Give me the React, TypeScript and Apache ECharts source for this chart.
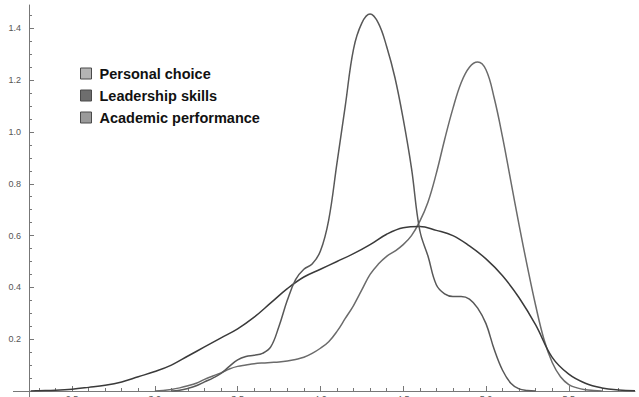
import React, { useEffect, useRef } from "react";
import * as echarts from "echarts";

// ---- data ----
const seriesNames = ["Personal choice", "Leadership skills", "Academic performance"];

// Personal choice: peak near 4.95
const personalX = [3.0, 3.05, 3.1, 3.15, 3.2, 3.25, 3.3, 3.35, 3.4, 3.45, 3.5, 3.55, 3.6, 3.65, 3.7, 3.75, 3.8, 3.85, 3.9, 3.95, 4.0, 4.05, 4.1, 4.15, 4.2, 4.25, 4.3, 4.35, 4.4, 4.45, 4.5, 4.55, 4.6, 4.65, 4.7, 4.75, 4.8, 4.85, 4.9, 4.95, 5.0, 5.05, 5.1, 5.15, 5.2, 5.25, 5.3, 5.35, 5.4, 5.45, 5.5, 5.55, 5.6, 5.65, 5.7];
const personalY = [0, 0.002, 0.006, 0.012, 0.02, 0.03, 0.045, 0.058, 0.07, 0.085, 0.095, 0.1, 0.105, 0.108, 0.11, 0.112, 0.116, 0.122, 0.13, 0.145, 0.165, 0.19, 0.23, 0.28, 0.33, 0.39, 0.45, 0.49, 0.52, 0.54, 0.565, 0.6, 0.655, 0.73, 0.84, 0.97, 1.09, 1.19, 1.25, 1.27, 1.24, 1.13, 0.98, 0.81, 0.64, 0.48, 0.33, 0.2, 0.11, 0.055, 0.025, 0.012, 0.005, 0.002, 0];

// Leadership skills: broad curve
const leadershipX = [2.25, 2.3, 2.4, 2.5, 2.6, 2.7, 2.8, 2.9, 3.0, 3.1, 3.2, 3.3, 3.4, 3.5, 3.6, 3.7, 3.8, 3.9, 4.0, 4.1, 4.2, 4.3, 4.4, 4.5, 4.6, 4.7, 4.8, 4.9, 5.0, 5.1, 5.2, 5.3, 5.4, 5.5, 5.6, 5.7, 5.8, 5.9];
const leadershipY = [0, 0.001, 0.003, 0.007, 0.014, 0.022, 0.035, 0.055, 0.075, 0.1, 0.135, 0.17, 0.205, 0.24, 0.285, 0.34, 0.395, 0.44, 0.47, 0.5, 0.53, 0.565, 0.605, 0.63, 0.635, 0.62, 0.6, 0.56, 0.51, 0.445, 0.36, 0.255, 0.13, 0.065, 0.03, 0.012, 0.004, 0.001];

// Academic performance: tall peak near 4.3
const academicX = [3.1, 3.15, 3.2, 3.25, 3.3, 3.35, 3.4, 3.45, 3.5, 3.55, 3.6, 3.65, 3.7, 3.75, 3.8, 3.85, 3.9, 3.95, 4.0, 4.05, 4.1, 4.15, 4.2, 4.25, 4.3, 4.35, 4.4, 4.45, 4.5, 4.55, 4.6, 4.65, 4.7, 4.75, 4.8, 4.85, 4.9, 4.95, 5.0, 5.05, 5.1, 5.15, 5.2, 5.25, 5.3];
const academicY = [0, 0.003, 0.01, 0.02, 0.035, 0.05, 0.068, 0.095, 0.12, 0.133, 0.138, 0.145, 0.17, 0.25, 0.35, 0.43, 0.47, 0.49, 0.54, 0.66, 0.88, 1.1, 1.32, 1.42, 1.455, 1.42, 1.33, 1.21, 1.05, 0.86, 0.62, 0.52, 0.41, 0.375, 0.365, 0.365, 0.355, 0.32, 0.26, 0.16, 0.08, 0.03, 0.008, 0.002, 0];

const xMajorTicks = [2.5, 3.0, 3.5, 4.0, 4.5, 5.0, 5.5];
const xMinorTicks = [2.3, 2.4, 2.6, 2.7, 2.8, 2.9, 3.1, 3.2, 3.3, 3.4, 3.6, 3.7, 3.8, 3.9, 4.1, 4.2, 4.3, 4.4, 4.6, 4.7, 4.8, 4.9, 5.1, 5.2, 5.3, 5.4, 5.6, 5.7, 5.8];
const yMajorTicks = [0.2, 0.4, 0.6, 0.8, 1.0, 1.2, 1.4];
const yMinorTicks = [0.05, 0.1, 0.15, 0.25, 0.3, 0.35, 0.45, 0.5, 0.55, 0.65, 0.7, 0.75, 0.85, 0.9, 0.95, 1.05, 1.1, 1.15, 1.25, 1.3, 1.35, 1.45];

const lineColors = ["#6b6b6b", "#3a3a3a", "#585858"];
const swatchColors = ["#b4b4b4", "#6e6e6e", "#9a9a9a"];

const zip = (xs: number[], ys: number[]) => xs.map((x, i) => [x, ys[i]]);

const AXIS_COLOR = "#777";

export default function App() {
  const ref = useRef<HTMLDivElement>(null);
  useEffect(() => {
    if (!ref.current) return;
    const chart = echarts.init(ref.current, null, { renderer: "svg" });
    const xAxisBase = { type: "value", min: 2.24, max: 5.9, splitLine: { show: false }, gridIndex: 0 };
    const yAxisBase = { type: "value", min: 0, max: 1.49, splitLine: { show: false }, gridIndex: 0 };
    chart.setOption({
      animation: false,
      backgroundColor: "#ffffff",
      grid: { left: 29, right: 4, top: 5, bottom: 6, containLabel: false, outerBoundsMode: "none" },
      legend: {
        orient: "vertical",
        left: 80,
        top: 66,
        padding: 0,
        icon: "rect",
        itemWidth: 11,
        itemHeight: 11,
        itemGap: 7,
        textStyle: {
          fontFamily: "Liberation Sans, Arial",
          fontWeight: "bold",
          fontSize: 14.5,
          color: "#111",
          padding: [0, 0, 0, 3],
        },
        data: seriesNames.map((n, i) => ({
          name: n,
          itemStyle: { color: swatchColors[i], borderColor: "#4a4a4a", borderWidth: 1 },
        })),
      },
      xAxis: [
        {
          ...xAxisBase,
          position: "bottom",
          axisLine: { show: true, onZero: false, lineStyle: { color: AXIS_COLOR, width: 1 } },
          axisTick: { show: true, inside: true, length: 5, customValues: xMajorTicks, lineStyle: { color: AXIS_COLOR } },
          axisLabel: {
            show: true,
            customValues: xMajorTicks,
            margin: 3,
            fontSize: 9,
            color: "#555",
            fontFamily: "Liberation Sans, Arial",
            formatter: (v: number) => v.toFixed(1),
          },
        },
        {
          ...xAxisBase,
          position: "bottom",
          axisLine: { show: false },
          axisTick: { show: true, inside: true, length: 3, customValues: xMinorTicks, lineStyle: { color: AXIS_COLOR } },
          axisLabel: { show: false },
        },
      ],
      yAxis: [
        {
          ...yAxisBase,
          position: "left",
          axisLine: { show: true, onZero: false, lineStyle: { color: AXIS_COLOR, width: 1 } },
          axisTick: { show: true, inside: true, length: 5, customValues: yMajorTicks, lineStyle: { color: AXIS_COLOR } },
          axisLabel: {
            show: true,
            customValues: yMajorTicks,
            margin: 8,
            fontSize: 9,
            color: "#555",
            fontFamily: "Liberation Sans, Arial",
            formatter: (v: number) => v.toFixed(1),
          },
        },
        {
          ...yAxisBase,
          position: "left",
          axisLine: { show: false },
          axisTick: { show: true, inside: true, length: 3, customValues: yMinorTicks, lineStyle: { color: AXIS_COLOR } },
          axisLabel: { show: false },
        },
      ],
      graphic: [
        { type: "line", shape: { x1: 13, y1: 391.5, x2: 29, y2: 391.5 }, style: { stroke: AXIS_COLOR, lineWidth: 1 } },
        { type: "line", shape: { x1: 29.5, y1: 391, x2: 29.5, y2: 397 }, style: { stroke: AXIS_COLOR, lineWidth: 1 } },
      ],
      series: [
        { name: seriesNames[0], data: zip(personalX, personalY), color: lineColors[0] },
        { name: seriesNames[1], data: zip(leadershipX, leadershipY), color: lineColors[1] },
        { name: seriesNames[2], data: zip(academicX, academicY), color: lineColors[2] },
      ].map((s) => ({
        type: "line",
        name: s.name,
        data: s.data,
        xAxisIndex: 0,
        yAxisIndex: 0,
        smooth: 0.4,
        symbol: "none",
        lineStyle: { color: s.color, width: 1.5 },
        itemStyle: { color: s.color },
      })),
    });
    return () => chart.dispose();
  }, []);
  return <div ref={ref} style={{ position: "absolute", left: 0, top: 0, width: 639, height: 397 }} />;
}
